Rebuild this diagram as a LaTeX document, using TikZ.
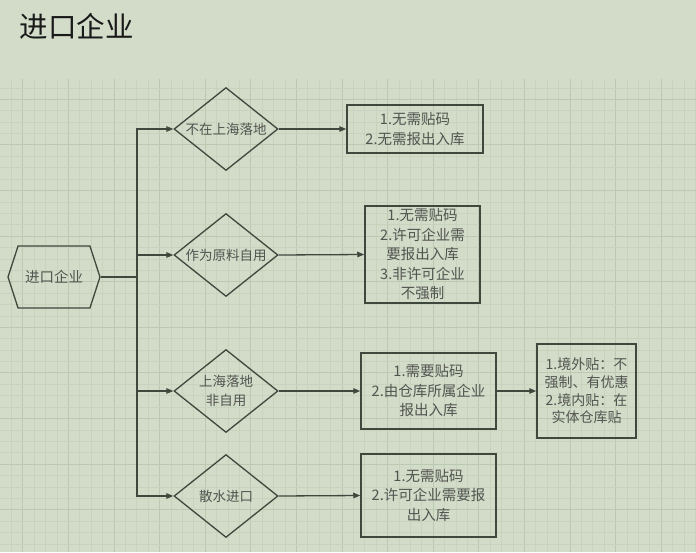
\documentclass[tikz,border=0pt]{standalone}
\usepackage{fontspec}
\setmainfont{Noto Sans CJK SC}
\usepackage{tikz}
\usetikzlibrary{arrows.meta,shapes.geometric,shapes.symbols}
\definecolor{paper}{RGB}{210,220,201}
\definecolor{gridminor}{RGB}{200,211,190}
\definecolor{gridmajor}{RGB}{188,201,178}
\definecolor{inkline}{RGB}{62,72,60}
\definecolor{inktext}{RGB}{82,84,80}

\begin{document}
\begin{tikzpicture}[
  x=1pt, y=-1pt,
  >={Triangle[length=7pt,width=5.5pt]},
  font=\fontsize{14.5}{19.5}\selectfont,
  hexa/.style={signal, signal to=west and east, signal pointer angle=144, draw=inkline, line width=1.3pt, text=inktext, minimum width=92pt, minimum height=62pt, inner sep=0pt},
  dec/.style={diamond, aspect=1.25, draw=inkline, line width=1.3pt, text=inktext, align=center, font=\fontsize{13.5}{19.5}\selectfont, minimum width=104pt, minimum height=83pt, inner sep=0pt},
  res/.style={draw=inkline, line width=1.5pt, text=inktext, align=center, inner sep=0pt},
  hdr/.style={font=\fontsize{28.5}{30}\selectfont, text=black!90},
  arr/.style={->, line width=1.3pt, color=inkline}
]
% paper and grid
\useasboundingbox (0,0) rectangle (696,552);
\fill[paper] (0,0) rectangle (696,552);
\foreach \k in {1,...,61} {\pgfmathsetmacro\gx{11.4*\k}\pgfmathtruncatemacro\mj{mod(\k,4)==2}
  \ifnum\mj=1 \draw[gridmajor,line width=0.9pt] (\gx,79) -- (\gx,552); \else \draw[gridminor,line width=0.8pt] (\gx,79) -- (\gx,552); \fi}
\foreach \k in {-1,...,40} {\pgfmathsetmacro\gy{99.3+11.4*\k}\pgfmathtruncatemacro\mj{mod(\k+4,4)==0}
  \ifnum\mj=1 \draw[gridmajor,line width=0.9pt] (0,\gy) -- (696,\gy); \else \draw[gridminor,line width=0.8pt] (0,\gy) -- (696,\gy); \fi}
% title
\node[hdr, anchor=west] (title) at (16,26) {进口企业};
% start
\node[hexa] (imp) at (54,277) {进口企业};
\coordinate (trunk) at (137,277);
% decisions
\node[dec] (d1) at (226,129) {不在上海落地};
\node[dec] (d2) at (226,255) {作为原料自用};
\node[dec] (d3) at (226,391) {上海落地\\非自用};
\node[dec] (d4) at (226,496) {散水进口};
% results
\node[res, minimum width=136pt, minimum height=48pt] (r1) at (415,129) {1.无需贴码\\2.无需报出入库};
\node[res, minimum width=115pt, minimum height=97pt] (r2) at (422.5,254.5) {1.无需贴码\\2.许可企业需\\要报出入库\\3.非许可企业\\不强制};
\node[res, minimum width=135pt, minimum height=76pt] (r3) at (428.5,391) {1.需要贴码\\2.由仓库所属企业\\报出入库};
\node[res, minimum width=99pt, minimum height=94pt, font=\fontsize{14}{17.7}\selectfont] (r4) at (586.5,391) {1.境外贴：不\\强制、有优惠\\2.境内贴：在\\实体仓库贴};
\node[res, minimum width=135pt, minimum height=83pt] (r5) at (428.5,495.5) {1.无需贴码\\2.许可企业需要报\\出入库};
% arrows
\draw[arr, -] (imp.east) -- (trunk);
\foreach \d in {d1,d2,d3,d4} {\draw[arr] (trunk) |- (\d.west);}
\draw[arr] (d1.east) -- (r1.west);
\draw[arr] (d2.east) -- (r2.west);
\draw[arr] (d3.east) -- (r3.west);
\draw[arr] (d4.east) -- (r5.west);
\draw[arr] (r3.east) -- (r4.west);
\end{tikzpicture}
\end{document}
